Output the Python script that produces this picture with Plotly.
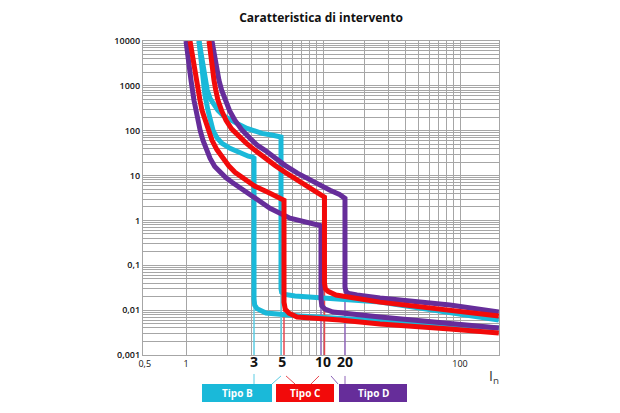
import plotly.graph_objects as go

# ---- data (multiples of In on x, seconds on y) ----
b_min_x = [1.244, 1.287, 1.331, 1.376, 1.447, 1.52, 1.575, 1.68, 1.831, 2.095, 2.479, 2.85, 3.05, 3.136, 3.136, 3.17, 3.3, 3.6, 3.836, 6.795, 11.25, 36.5, 192]
b_min_y = [10000, 3681, 1321, 612, 284, 160, 101.9, 70, 52.3, 40.5, 31.3, 27, 25.7, 24.5, 0.018, 0.013, 0.0108, 0.0093, 0.00861, 0.00738, 0.00666, 0.00543, 0.00399]
b_max_x = [1.244, 1.309, 1.376, 1.43, 1.497, 1.6, 1.712, 1.862, 2.05, 2.279, 2.789, 3.2, 3.587, 4.3, 4.85, 4.937, 4.937, 4.99, 5.28, 6.247, 26.07, 192]
b_max_y = [10000, 3681, 1321, 800, 525, 370, 284, 220, 180, 153.5, 112.8, 97, 87.3, 79, 75.5, 72, 0.03, 0.025, 0.0225, 0.0206, 0.0151, 0.00601]

c_min_x = [1.07, 1.125, 1.183, 1.22, 1.265, 1.31, 1.376, 1.45, 1.548, 1.68, 1.831, 2.05, 2.279, 2.7, 3.189, 4.104, 4.8, 5.1, 5.192, 5.192, 5.3, 5.646, 6.461, 13.31, 26.07, 84.5, 192]
c_min_y = [10000, 3681, 1321, 800, 474, 280, 170, 105, 61, 38, 25.5, 16.5, 11.8, 8, 5.78, 4.03, 3.3, 3.05, 2.8, 0.015, 0.0105, 0.0085, 0.00701, 0.00601, 0.0049, 0.00379, 0.00309]
c_max_x = [1.472, 1.522, 1.601, 1.65, 1.712, 1.82, 1.959, 2.15, 2.396, 2.75, 3.189, 3.8, 4.463, 5.3, 6.247, 8.037, 9.3, 10.0, 10.25, 10.25, 10.4, 10.88, 12.44, 26.07, 84.5, 192]
c_max_y = [10000, 3681, 1321, 800, 474, 280, 170, 110, 78.8, 53, 36.5, 24, 16.9, 11.8, 8.7, 5.21, 4.0, 3.6, 3.3, 0.04, 0.03, 0.0262, 0.0217, 0.0151, 0.0100, 0.00738]

d_min_x = [1.0, 1.034, 1.088, 1.144, 1.18, 1.224, 1.27, 1.331, 1.41, 1.497, 1.62, 1.771, 1.95, 2.167, 2.5, 2.932, 3.5, 4.104, 5.742, 8.037, 9.3, 9.67, 9.67, 9.8, 10.34, 11.83, 26.07, 84.5, 192]
d_min_y = [10000, 3681, 1321, 474, 280, 170, 100, 61, 37, 24.3, 16, 11.8, 9, 7.09, 5.3, 3.83, 2.6, 1.87, 1.12, 0.867, 0.8, 0.76, 0.018, 0.0125, 0.0105, 0.00907, 0.00701, 0.0052, 0.00399]
d_max_x = [1.548, 1.628, 1.741, 1.82, 1.926, 2.08, 2.279, 2.55, 2.932, 3.3, 3.772, 4.4, 5.28, 6.5, 8.037, 9.5, 11.25, 13.2, 14.2, 14.47, 14.47, 14.7, 15.48, 17.71, 26.07, 84.5, 192]
d_max_y = [10000, 3681, 1321, 800, 474, 280, 170, 105, 67.6, 48, 36.5, 25, 16.9, 11.3, 7.86, 6.0, 4.71, 3.8, 3.4, 3.1, 0.033, 0.026, 0.0235, 0.0217, 0.0186, 0.013, 0.00907]

# thin marker lines continuing the instantaneous-trip verticals
marker_x = [3.136, 4.937, 5.192, 9.67, 10.25, 14.47]
marker_top = [0.02, 0.03, 0.02, 0.02, 0.04, 0.03]
marker_type = ["B", "B", "C", "D", "C", "D"]

x_tickvals = [0.5, 1, 3.136, 5.05, 10, 14.47, 100]
x_ticktext = ["0,5", "1", "3", "5", "10", "20", "100"]
x_tick_bold = [False, False, True, True, True, True, False]
y_tickvals = [0.001, 0.01, 0.1, 1, 10, 100, 1000, 10000]
y_ticktext = ["0,001", "0,01", "0,1", "1", "10", "100", "1000", "10000"]

x_grid = [1, 2, 3, 4, 5, 6, 7, 8, 9, 10, 20, 30, 40, 50, 60, 70, 80, 90, 100]
y_grid = [m * 10 ** e for e in range(-3, 4) for m in range(2, 10)]

types = ["Tipo B", "Tipo C", "Tipo D"]

COL = {"B": "#1AB9D9", "C": "#F20A0A", "D": "#662D9A"}
THIN = {"B": "#5CCDE4", "C": "#E8474F", "D": "#8E63B8"}

fig = go.Figure()

curves = [
    ("B", b_min_x, b_min_y), ("B", b_max_x, b_max_y),
    ("D", d_min_x, d_min_y), ("D", d_max_x, d_max_y),
    ("C", c_min_x, c_min_y), ("C", c_max_x, c_max_y),
]

for t, mx, top in zip(marker_type, marker_x, marker_top):
    fig.add_trace(go.Scatter(x=[mx, mx], y=[top, 0.001], mode="lines",
                             line=dict(color=THIN[t], width=1.5),
                             showlegend=False, hoverinfo="skip"))

for t, xs, ys in curves:
    fig.add_trace(go.Scatter(x=xs, y=ys, mode="lines",
                             line=dict(color=COL[t], width=5, shape="linear"),
                             showlegend=False))

ticktext_fmt = [
    (f'<span style="font-size:14px"><b>{t}</b></span>' if b else t)
    for t, b in zip(x_ticktext, x_tick_bold)
]

fig.update_xaxes(
    type="log", range=[-0.3139, 2.2847],
    tickmode="array", tickvals=x_tickvals, ticktext=ticktext_fmt,
    showgrid=False, ticks="", zeroline=False,
    showline=True, linecolor="#A6A6A6", linewidth=1.2, mirror=True,
    tickfont=dict(family="Open Sans", size=9, color="#111"),
    minor=dict(tickmode="array", tickvals=x_grid, showgrid=True,
               gridcolor="#A6A6A6", gridwidth=1.2, ticks=""),
)
fig.update_yaxes(
    type="log", range=[-3, 4],
    tickmode="array", tickvals=y_tickvals, ticktext=y_ticktext,
    showgrid=True, gridcolor="#A6A6A6", gridwidth=1.2, ticks="", zeroline=False,
    showline=True, linecolor="#A6A6A6", linewidth=1.2, mirror=True,
    tickfont=dict(family="Open Sans", size=9, color="#111", weight=600),
    minor=dict(tickmode="array", tickvals=y_grid, showgrid=True,
               gridcolor="#A6A6A6", gridwidth=1.2, ticks=""),
)

L, R, T, B = 143, 121, 40.5, 58
W, H = 620, 413
PW, PH = W - L - R, H - T - B


def px(x):
    return (x - L) / PW


def py(y):
    return (H - B - y) / PH


shapes = []
annotations = []
boxes = [(202, 272, "B"), (276, 334, "C"), (339, 407, "D")]
for (x0, x1, t), label in zip(boxes, types):
    shapes.append(dict(type="rect", xref="paper", yref="paper",
                       x0=px(x0), x1=px(x1), y0=py(402), y1=py(384),
                       fillcolor=COL[t], line=dict(width=0), layer="above"))
    annotations.append(dict(xref="paper", yref="paper", x=px((x0 + x1) / 2), y=py(393),
                            text=f"<b>{label}</b>", showarrow=False,
                            font=dict(family="Open Sans", size=10, color="white"),
                            xanchor="center", yanchor="middle"))

connectors = [
    ("B", 254, 374, 254, 384), ("B", 281, 376, 272, 384),
    ("C", 286, 376, 295, 384), ("C", 319, 376, 311, 384),
    ("D", 331, 376, 338, 384), ("D", 345, 376, 345, 384),
]
for t, xa, ya, xb, yb in connectors:
    shapes.append(dict(type="line", xref="paper", yref="paper",
                       x0=px(xa), y0=py(ya), x1=px(xb), y1=py(yb),
                       line=dict(color=THIN[t], width=1)))

annotations.append(dict(xref="paper", yref="paper", x=px(494), y=py(377),
                        text="I<sub>n</sub>", showarrow=False,
                        font=dict(family="Open Sans", size=14, color="#333"),
                        xanchor="center", yanchor="middle"))

fig.update_layout(
    width=W, height=H,
    margin=dict(l=L, r=R, t=T, b=B),
    paper_bgcolor="white", plot_bgcolor="white",
    title=dict(text="<b>Caratteristica di intervento</b>", x=(L + PW / 2) / W, xanchor="center",
               y=1 - 18 / H, yanchor="middle",
               font=dict(family="Open Sans", size=12, color="#111")),
    shapes=shapes, annotations=annotations,
    showlegend=False,
)

fig.write_html("out.html")
